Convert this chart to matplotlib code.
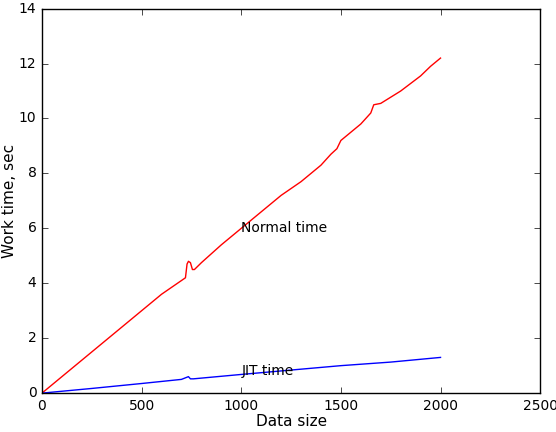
import matplotlib
matplotlib.use("Agg")
import matplotlib.pyplot as plt

plt.style.use('classic')

x_normal = [0,100,200,250,300,400,500,600,700,720,728,735,745,755,765,800,900,1000,1100,1200,1300,1400,1450,1480,1500,1600,1650,1665,1700,1800,1900,1950,2000]
y_normal = [0,0.6,1.2,1.5,1.8,2.4,3.0,3.6,4.1,4.2,4.7,4.8,4.75,4.5,4.5,4.75,5.4,6.0,6.6,7.2,7.7,8.3,8.7,8.9,9.2,9.8,10.2,10.5,10.55,11.0,11.55,11.9,12.2]
x_jit = [0,250,500,700,735,745,760,1000,1250,1500,1750,2000]
y_jit = [0,0.17,0.35,0.5,0.6,0.52,0.52,0.68,0.84,1.0,1.13,1.3]

fig = plt.figure(figsize=(5.56,4.32), dpi=100, facecolor='white')
ax = fig.add_axes([0.0755,0.09,0.896,0.89])
ax.plot(x_normal, y_normal, color='red', lw=1)
ax.plot(x_jit, y_jit, color='blue', lw=1)
ax.text(1000, 6.0, 'Normal time', fontsize=10, va='center')
ax.text(1000, 1.05, 'JIT time', fontsize=10, va='top')
ax.set_xlim(0,2500)
ax.set_ylim(0,14)
ax.set_xlabel('Data size', fontsize=11, labelpad=1)
ax.set_ylabel('Work time, sec', fontsize=11, labelpad=1)
ax.tick_params(labelsize=10)
fig.savefig('out.png', dpi=100, facecolor='white')
